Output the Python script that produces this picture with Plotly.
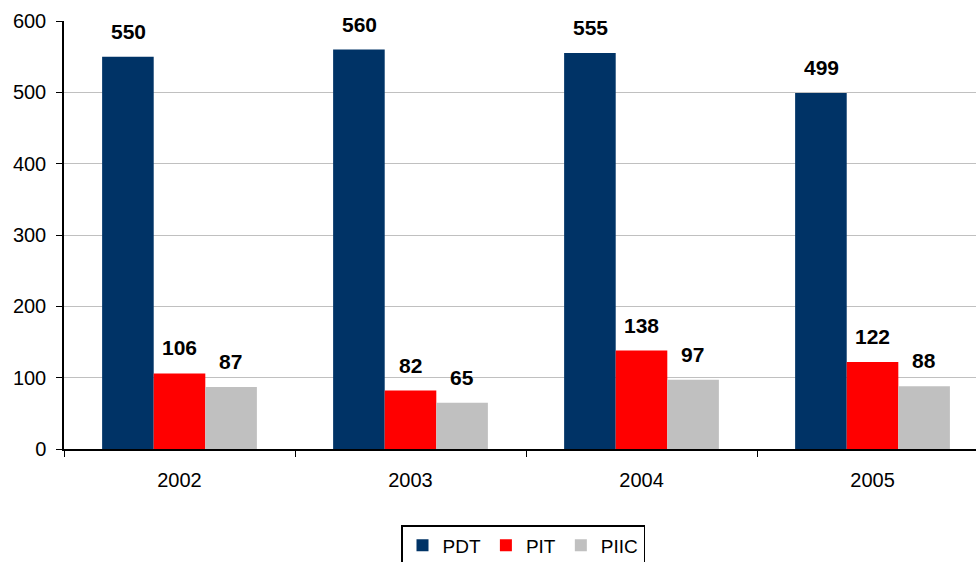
import plotly.graph_objects as go

years = ["2002", "2003", "2004", "2005"]
pdt = [550, 560, 555, 499]
pit = [106, 82, 138, 122]
piic = [87, 65, 97, 88]
series_names = ["PDT", "PIT", "PIIC"]
series_colors = ["#003366", "#ff0000", "#c0c0c0"]
y_ticks = [0, 100, 200, 300, 400, 500, 600]

series_values = [pdt, pit, piic]

fig = go.Figure()
for name, vals, col in zip(series_names, series_values, series_colors):
    fig.add_trace(go.Bar(x=years, y=vals, name=name, marker=dict(color=col, line=dict(width=0))))

bar_px = 51
for i, vals in enumerate(series_values):
    for j, v in enumerate(vals):
        fig.add_annotation(
            x=j, y=v, xref="x", yref="y", text="<b>" + str(v) + "</b>", showarrow=False,
            xshift=(i - 1) * bar_px, yanchor="bottom", yshift=12,
            font=dict(family="Liberation Sans, Arial", size=21, color="black"))

fig.update_layout(
    width=976, height=562,
    margin=dict(l=64, r=0, t=21, b=113),
    paper_bgcolor="white", plot_bgcolor="white",
    barmode="group", bargap=0.33, bargroupgap=0,
    font=dict(family="Liberation Sans, Arial", size=20, color="black"),
    showlegend=True,
    legend=dict(orientation="h", xref="container", yref="container",
                x=523 / 976, xanchor="center", y=1 - 525 / 562, yanchor="top",
                bordercolor="black", borderwidth=1.5, bgcolor="white",
                font=dict(size=19), itemwidth=30, traceorder="normal",
                tracegroupgap=0),
)
fig.update_xaxes(type="category", range=[-0.5, 3.448], showline=True, linecolor="black", linewidth=1.5,
                 ticks="outside", tickson="boundaries", ticklen=6, tickcolor="black",
                 showgrid=False, ticklabelstandoff=12)
fig.update_yaxes(range=[0, 600], tickvals=y_ticks, showline=True, linecolor="black", linewidth=1.5,
                 ticks="outside", ticklen=6, tickcolor="black",
                 showgrid=True, gridcolor="#c0c0c0", gridwidth=1, zeroline=False,
                 ticklabelstandoff=6)

fig.write_html("out.html")
